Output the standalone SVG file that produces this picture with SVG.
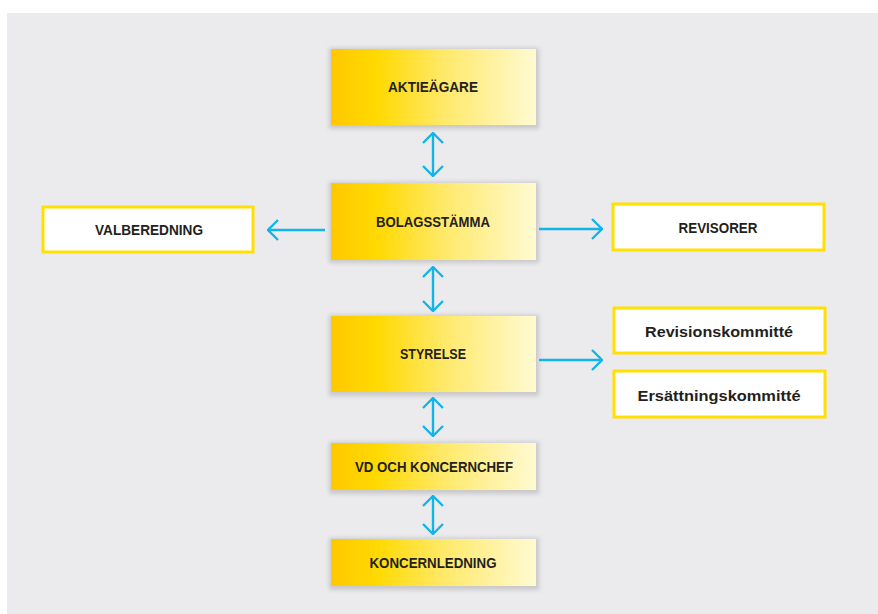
<svg xmlns="http://www.w3.org/2000/svg" width="878" height="614" viewBox="0 0 878 614">
<defs>
<linearGradient id="yg" x1="0" y1="0" x2="1" y2="0">
<stop offset="0" stop-color="#FFC800"/>
<stop offset="0.22" stop-color="#FFD900"/>
<stop offset="0.55" stop-color="#FFE969"/>
<stop offset="1" stop-color="#FFFAD2"/>
</linearGradient>
<filter id="sh" x="-10%" y="-20%" width="120%" height="140%">
<feGaussianBlur stdDeviation="2"/>
</filter>
<marker id="ah" viewBox="0 0 12 22" refX="11" refY="11" markerWidth="12" markerHeight="22" markerUnits="userSpaceOnUse" orient="auto-start-reverse">
<polyline points="1,1 11,11 1,21" fill="none" stroke="#12B5EA" stroke-width="2.4"/>
</marker>
<style>
.bg{fill:#EBEBED}
.sh{fill:#C9C9CC;filter:url(#sh)}
.yb{fill:url(#yg)}
.wb{fill:#FFFFFF;stroke:#FFE000;stroke-width:3}
.t{font-family:"Liberation Sans",Arial,sans-serif;font-weight:bold;font-size:15.5px;fill:#231F20;text-anchor:middle;dominant-baseline:central}
.c{fill:none;stroke:#12B5EA;stroke-width:2.4}
</style>
</defs>
<rect x="0" y="0" width="878" height="614" fill="#FFFFFF"/>
<rect class="bg" x="7" y="13" width="871" height="601"/>

<g id="aktieagare">
<rect class="sh" x="329" y="48" width="210" height="81"/>
<rect class="yb" x="331" y="49" width="205" height="76"/>
<text class="t" x="433" y="86" textLength="90" lengthAdjust="spacingAndGlyphs">AKTIEÄGARE</text>
</g>
<g id="bolagsstamma">
<rect class="sh" x="329" y="182" width="210" height="81"/>
<rect class="yb" x="331" y="183" width="205" height="77"/>
<text class="t" x="433" y="221" textLength="114" lengthAdjust="spacingAndGlyphs">BOLAGSSTÄMMA</text>
</g>
<g id="styrelse">
<rect class="sh" x="329" y="315" width="210" height="81"/>
<rect class="yb" x="331" y="316" width="205" height="76"/>
<text class="t" x="433" y="353" textLength="66" lengthAdjust="spacingAndGlyphs">STYRELSE</text>
</g>
<g id="vd">
<rect class="sh" x="329" y="442" width="210" height="52"/>
<rect class="yb" x="331" y="443" width="205" height="47"/>
<text class="t" x="434" y="466" textLength="158" lengthAdjust="spacingAndGlyphs">VD OCH KONCERNCHEF</text>
</g>
<g id="koncernledning">
<rect class="sh" x="329" y="538" width="210" height="52"/>
<rect class="yb" x="331" y="539" width="205" height="47"/>
<text class="t" x="433" y="562" textLength="127" lengthAdjust="spacingAndGlyphs">KONCERNLEDNING</text>
</g>
<g id="valberedning">
<rect class="wb" x="43" y="207" width="210" height="45"/>
<text class="t" x="149" y="229" textLength="108" lengthAdjust="spacingAndGlyphs">VALBEREDNING</text>
</g>
<g id="revisorer">
<rect class="wb" x="613" y="204" width="211" height="46"/>
<text class="t" x="718" y="227" textLength="79" lengthAdjust="spacingAndGlyphs">REVISORER</text>
</g>
<g id="revisionskommitte">
<rect class="wb" x="614" y="308" width="211" height="45"/>
<text class="t" x="719" y="331" textLength="148" lengthAdjust="spacingAndGlyphs">Revisionskommitté</text>
</g>
<g id="ersattningskommitte">
<rect class="wb" x="614" y="371" width="211" height="46"/>
<text class="t" x="719" y="395" textLength="163" lengthAdjust="spacingAndGlyphs">Ersättningskommitté</text>
</g>

<g id="connectors">
<line class="c" x1="433" y1="133" x2="433" y2="176" marker-start="url(#ah)" marker-end="url(#ah)"/>
<line class="c" x1="433" y1="267" x2="433" y2="311" marker-start="url(#ah)" marker-end="url(#ah)"/>
<line class="c" x1="433" y1="398" x2="433" y2="436" marker-start="url(#ah)" marker-end="url(#ah)"/>
<line class="c" x1="433" y1="496" x2="433" y2="534" marker-start="url(#ah)" marker-end="url(#ah)"/>
<line class="c" x1="325" y1="230" x2="268" y2="230" marker-end="url(#ah)"/>
<line class="c" x1="539" y1="229" x2="602" y2="229" marker-end="url(#ah)"/>
<line class="c" x1="539" y1="360" x2="602" y2="360" marker-end="url(#ah)"/>
</g>
</svg>
